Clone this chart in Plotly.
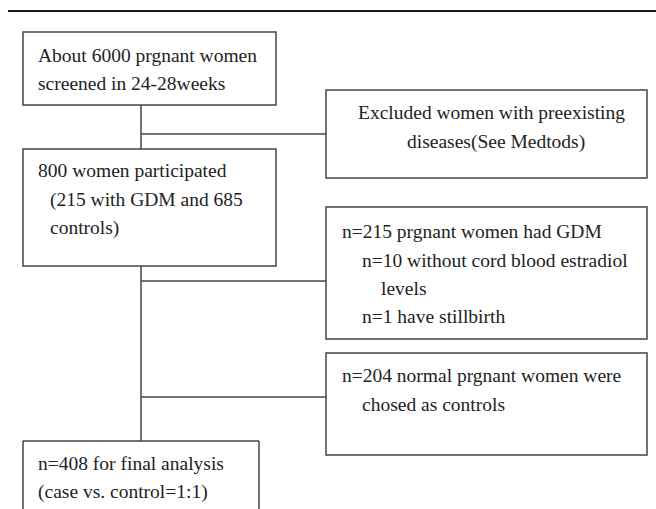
import plotly.graph_objects as go

# ---- content (text of each flowchart box, line by line) ----
screened_lines = ["About 6000 prgnant women", "screened in 24-28weeks"]
excluded_lines = ["Excluded women with preexisting", "diseases(See Medtods)"]
participated_lines = ["800 women participated", "(215 with GDM and 685", "controls)"]
gdm_lines = ["n=215 prgnant women had GDM", "n=10 without cord blood estradiol",
             "levels", "n=1 have stillbirth"]
controls_lines = ["n=204 normal prgnant women were", "chosed as controls"]
final_lines = ["n=408 for final analysis", "(case vs. control=1:1)"]

W, H = 656, 509
FONT = dict(family="Liberation Serif, Times New Roman, serif", size=19.5, color="#222222")
BOX = dict(color="#444444", width=1.5)

fig = go.Figure()
shapes = []

def rect(x0, y0, x1, y1):
    shapes.append(dict(type="rect", xref="x", yref="y", x0=x0, y0=y0, x1=x1, y1=y1,
                       line=BOX, fillcolor="rgba(0,0,0,0)"))

def line(x0, y0, x1, y1, style=BOX):
    shapes.append(dict(type="line", xref="x", yref="y", x0=x0, y0=y0, x1=x1, y1=y1, line=style))

# top rule
line(8, 11, 656, 11, dict(color="#1a1a1a", width=2.2))

# boxes
rect(23, 32, 276, 105)     # screened
rect(326, 90, 647, 178)    # excluded
rect(23, 149, 276, 266)    # participated
rect(326, 207, 647, 339)   # GDM
rect(326, 353, 647, 455)   # controls
# final box (open at bottom, runs off page)
line(23, 441, 259, 441)
line(23, 441, 23, 520)
line(259, 441, 259, 520)

# connectors
line(141, 105, 141, 149)
line(141, 134, 326, 134)
line(141, 266, 141, 441)
line(141, 281, 326, 281)
line(141, 397, 326, 397)

annotations = []
OFF = 6.5

def txt(s, x, baseline, anchor="left"):
    annotations.append(dict(text=s, x=x, y=baseline - OFF, xref="x", yref="y",
                            xanchor=anchor, yanchor="middle", showarrow=False,
                            font=FONT, borderpad=0))

txt(screened_lines[0], 37, 62)
txt(screened_lines[1], 37, 90)

txt(excluded_lines[0], 491, 119, "center")
txt(excluded_lines[1], 496, 148, "center")

txt(participated_lines[0], 37, 177)
txt(participated_lines[1], 49, 206)
txt(participated_lines[2], 49, 234)

txt(gdm_lines[0], 341, 238)
txt(gdm_lines[1], 361, 267)
txt(gdm_lines[2], 380, 295)
txt(gdm_lines[3], 361, 323)

txt(controls_lines[0], 341, 382)
txt(controls_lines[1], 361, 411)

txt(final_lines[0], 37, 470)
txt(final_lines[1], 37, 498)

fig.update_layout(
    width=W, height=H,
    margin=dict(l=0, r=0, t=0, b=0),
    paper_bgcolor="white", plot_bgcolor="white",
    xaxis=dict(range=[0, W], visible=False, fixedrange=True),
    yaxis=dict(range=[H, 0], visible=False, fixedrange=True),
    shapes=shapes, annotations=annotations,
    showlegend=False,
)

fig.write_html("out.html", config={"displayModeBar": False},
               post_script="document.body.style.margin='0';document.body.style.overflow='hidden';")
